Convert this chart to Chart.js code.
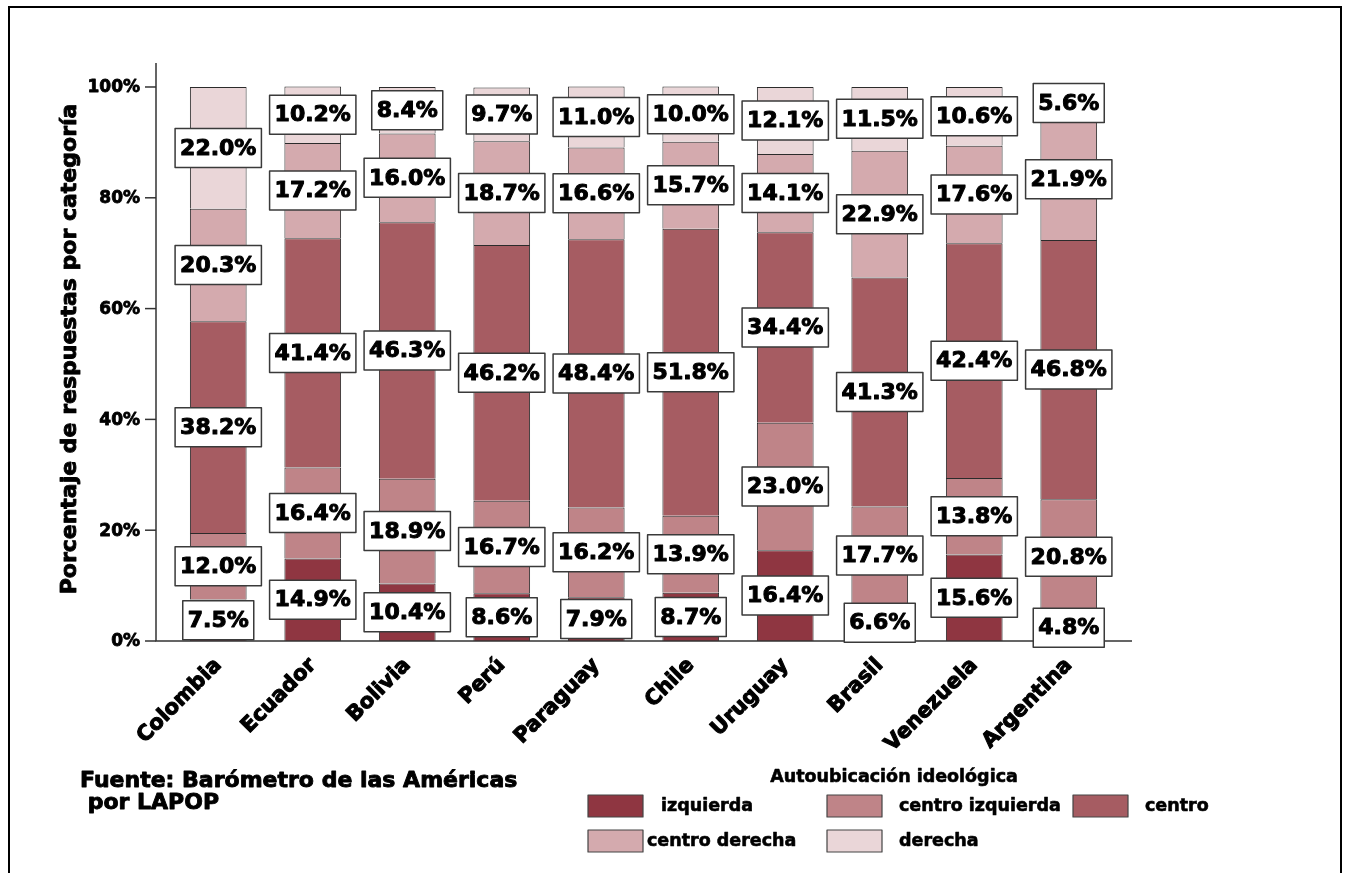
<!DOCTYPE html>
<html>
<head>
<meta charset="utf-8">
<script src="https://cdn.jsdelivr.net/npm/chart.js@4.4.1/dist/chart.umd.min.js"></script>
<style>
    html, body { margin: 0; padding: 0; background: #fff; }
    #wrap { position: relative; width: 1354px; height: 873px; overflow: hidden; }
    #frame { position: absolute; left: 8px; top: 6px; width: 1330px; height: 900px; border: 2px solid #000; border-bottom: none; }
    canvas { position: absolute; left: 0; top: 0; }
</style>
</head>
<body>
<div id="wrap">
    <div id="frame"></div>
    <canvas id="chart" width="1354" height="873"></canvas>
</div>
<script>
"use strict";

// Chart data
const countries = ['Colombia', 'Ecuador', 'Bolivia', 'Perú', 'Paraguay', 'Chile', 'Uruguay', 'Brasil', 'Venezuela', 'Argentina'];
const izquierda = [7.5, 14.9, 10.4, 8.6, 7.9, 8.7, 16.4, 6.6, 15.6, 4.8];
const centroIzquierda = [12.0, 16.4, 18.9, 16.7, 16.2, 13.9, 23.0, 17.7, 13.8, 20.8];
const centro = [38.2, 41.4, 46.3, 46.2, 48.4, 51.8, 34.4, 41.3, 42.4, 46.8];
const centroDerecha = [20.3, 17.2, 16.0, 18.7, 16.6, 15.7, 14.1, 22.9, 17.6, 21.9];
const derecha = [22.0, 10.2, 8.4, 9.7, 11.0, 10.0, 12.1, 11.5, 10.6, 5.6];
const yTicks = [0, 20, 40, 60, 80, 100];

const seriesNames = ['izquierda', 'centro izquierda', 'centro', 'centro derecha', 'derecha'];
const seriesColors = ['#8f3641', '#bf8488', '#a65c62', '#d4aaae', '#ead6d8'];

const FONT = '"DejaVu Sans", Verdana, sans-serif';

// Heavy text: fill plus a thin stroke, the original type is blacker than DejaVu Bold
function heavyText(ctx, text, x, y, weight) {
    ctx.fillText(text, x, y);
    ctx.lineWidth = weight;
    ctx.lineJoin = 'round';
    ctx.strokeStyle = '#000';
    ctx.strokeText(text, x, y);
}

// Axes, value boxes, legend and source note
const decorations = {
    id: 'decorations',
    afterDatasetsDraw(chart) {
        const ctx = chart.ctx;
        const area = chart.chartArea;
        const xScale = chart.scales.x;
        const yScale = chart.scales.y;
        const axisX = 156;

        ctx.save();

        // Axis lines
        ctx.strokeStyle = '#333';
        ctx.lineWidth = 1.5;
        ctx.beginPath();
        ctx.moveTo(axisX, area.top);
        ctx.lineTo(axisX, area.bottom);
        ctx.lineTo(1132, area.bottom);
        ctx.stroke();

        // Y ticks
        ctx.font = 'bold 17px ' + FONT;
        ctx.fillStyle = '#000';
        ctx.textAlign = 'right';
        ctx.textBaseline = 'middle';
        yTicks.forEach(function (t) {
            const y = yScale.getPixelForValue(t);
            ctx.strokeStyle = '#333';
            ctx.lineWidth = 1.5;
            ctx.beginPath();
            ctx.moveTo(axisX - 11, y);
            ctx.lineTo(axisX, y);
            ctx.stroke();
            heavyText(ctx, t + '%', 140, y + 1, 0.8);
        });

        // Y title
        ctx.save();
        ctx.translate(76, (area.top + area.bottom) / 2 - 3);
        ctx.rotate(-Math.PI / 2);
        ctx.font = 'bold 22px ' + FONT;
        ctx.textAlign = 'center';
        ctx.textBaseline = 'alphabetic';
        heavyText(ctx, 'Porcentaje de respuestas por categoría', 0, 0, 0.9);
        ctx.restore();

        // X labels
        ctx.font = 'bold 21px ' + FONT;
        countries.forEach(function (c, i) {
            const x = xScale.getPixelForValue(i);
            ctx.save();
            ctx.translate(x + 4, 666);
            ctx.rotate(-Math.PI / 4);
            ctx.textAlign = 'right';
            ctx.textBaseline = 'alphabetic';
            heavyText(ctx, c, 0, 0, 1.1);
            ctx.restore();
        });

        // Value boxes
        ctx.font = 'bold 22px ' + FONT;
        ctx.textAlign = 'center';
        ctx.textBaseline = 'middle';
        chart.data.datasets.forEach(function (ds, di) {
            const meta = chart.getDatasetMeta(di);
            meta.data.forEach(function (bar, i) {
                const label = ds.data[i].toFixed(1) + '%';
                const cy = (bar.y + bar.base) / 2;
                const w = ctx.measureText(label).width + 10;
                const h = 39;
                ctx.fillStyle = '#fff';
                ctx.fillRect(bar.x - w / 2, cy - h / 2, w, h);
                ctx.strokeStyle = '#3a3a3a';
                ctx.lineWidth = 1.5;
                ctx.strokeRect(bar.x - w / 2, cy - h / 2, w, h);
                ctx.fillStyle = '#000';
                heavyText(ctx, label, bar.x, cy + 1, 1);
            });
        });

        // Legend
        ctx.font = 'bold 17.5px ' + FONT;
        ctx.textAlign = 'center';
        ctx.textBaseline = 'middle';
        ctx.fillStyle = '#000';
        heavyText(ctx, 'Autoubicación ideológica', 894, 777, 0.6);

        const legendItems = [
            { box: 588, text: 661, y: 806 },
            { box: 827, text: 899, y: 806 },
            { box: 1073, text: 1145, y: 806 },
            { box: 588, text: 647, y: 841 },
            { box: 827, text: 899, y: 841 }
        ];
        ctx.textAlign = 'left';
        legendItems.forEach(function (item, k) {
            ctx.fillStyle = seriesColors[k];
            ctx.fillRect(item.box, item.y - 11, 55, 22);
            ctx.strokeStyle = '#444';
            ctx.lineWidth = 1.2;
            ctx.strokeRect(item.box, item.y - 11, 55, 22);
            ctx.fillStyle = '#000';
            heavyText(ctx, seriesNames[k], item.text, item.y, 0.6);
        });

        // Source note
        ctx.font = 'bold 22px ' + FONT;
        ctx.textBaseline = 'alphabetic';
        heavyText(ctx, 'Fuente: Barómetro de las Américas', 80, 787, 0.9);
        heavyText(ctx, ' por LAPOP', 80, 809, 0.9);

        ctx.restore();
    }
};

// Chart config
const config = {
    type: 'bar',
    data: {
        labels: countries,
        datasets: [izquierda, centroIzquierda, centro, centroDerecha, derecha].map(function (values, k) {
            return {
                label: seriesNames[k],
                data: values,
                backgroundColor: seriesColors[k],
                borderColor: '#2b2b2b',
                borderWidth: 1,
                barPercentage: 0.6,
                categoryPercentage: 1
            };
        })
    },
    options: {
        responsive: false,
        animation: false,
        layout: {
            padding: { left: 171, right: 238, top: 63, bottom: 232 }
        },
        plugins: {
            legend: { display: false },
            tooltip: { enabled: false },
            title: { display: false }
        },
        scales: {
            x: { stacked: true, display: false },
            y: { stacked: true, display: false, min: 0, max: 104.33 }
        }
    },
    plugins: [decorations]
};

new Chart(document.getElementById('chart'), config);
</script>
</body>
</html>
